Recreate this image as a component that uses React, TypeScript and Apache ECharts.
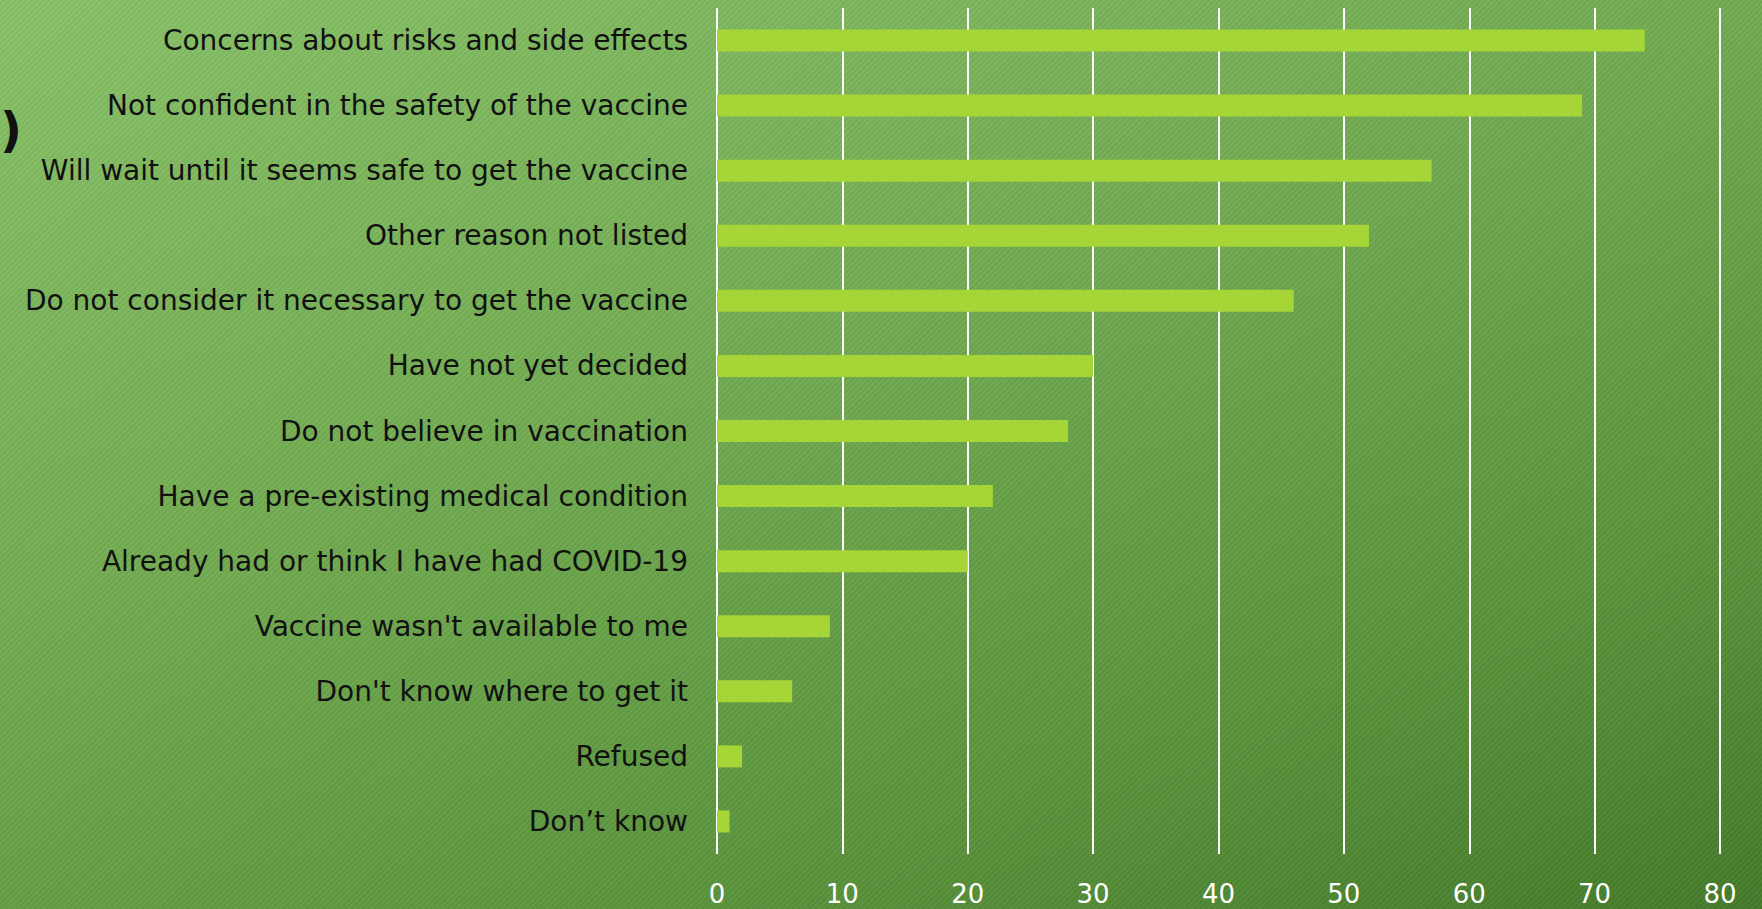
import React, { useEffect, useRef } from "react";
import * as echarts from "echarts";

// Reasons for not getting vaccinated, in descending order
const categories = [
  "Concerns about risks and side effects",
  "Not confident in the safety of the vaccine",
  "Will wait until it seems safe to get the vaccine",
  "Other reason not listed",
  "Do not consider it necessary to get the vaccine",
  "Have not yet decided",
  "Do not believe in vaccination",
  "Have a pre-existing medical condition",
  "Already had or think I have had COVID-19",
  "Vaccine wasn't available to me",
  "Don't know where to get it",
  "Refused",
  "Don\u2019t know",
];

const values = [74, 69, 57, 52, 46, 30, 28, 22, 20, 9, 6, 2, 1];

const axisMin = 0;
const axisMax = 80;
const axisStep = 10;

const FONT = "'DejaVu Sans', sans-serif";

export default function App() {
  const ref = useRef<HTMLDivElement>(null);

  useEffect(() => {
    if (!ref.current) return;
    const chart = echarts.init(ref.current, null, { renderer: "svg" });
    chart.setOption({
      animation: false,
      backgroundColor: "transparent",
      grid: { left: 717, right: 42, top: 8, bottom: 55, containLabel: false },
      xAxis: {
        type: "value",
        min: axisMin,
        max: axisMax,
        interval: axisStep,
        axisLine: { show: false },
        axisTick: { show: false },
        axisLabel: {
          color: "#ffffff",
          fontSize: 26,
          fontFamily: FONT,
          margin: 27,
        },
        splitLine: { show: true, lineStyle: { color: "#ffffff", width: 2 } },
      },
      yAxis: {
        type: "category",
        data: categories,
        inverse: true,
        axisLine: { show: false },
        axisTick: { show: false },
        axisLabel: {
          color: "#111111",
          fontSize: 28,
          fontFamily: FONT,
          margin: 29,
        },
        splitLine: { show: false },
      },
      series: [
        {
          type: "bar",
          data: values,
          barWidth: 22,
          itemStyle: { color: "#a6d537" },
        },
      ],
      graphic: [
        {
          type: "text",
          left: 0,
          top: 106,
          style: {
            text: ")",
            fill: "#111111",
            font: `bold 48px ${FONT}`,
          },
        },
      ],
    });
    return () => chart.dispose();
  }, []);

  return (
    <div
      style={{
        position: "fixed",
        left: 0,
        top: 0,
        width: 1762,
        height: 909,
        backgroundColor: "#6aa44a",
        backgroundImage:
          "repeating-linear-gradient(135deg, rgba(255,255,255,0.035) 0px, rgba(255,255,255,0.035) 2px, rgba(0,0,0,0.03) 2px, rgba(0,0,0,0.03) 4px), linear-gradient(160deg, #88c268 0%, #72ab51 40%, #5a933c 75%, #437b29 100%)",
      }}
    >
      <div ref={ref} style={{ width: 1762, height: 909 }} />
    </div>
  );
}
